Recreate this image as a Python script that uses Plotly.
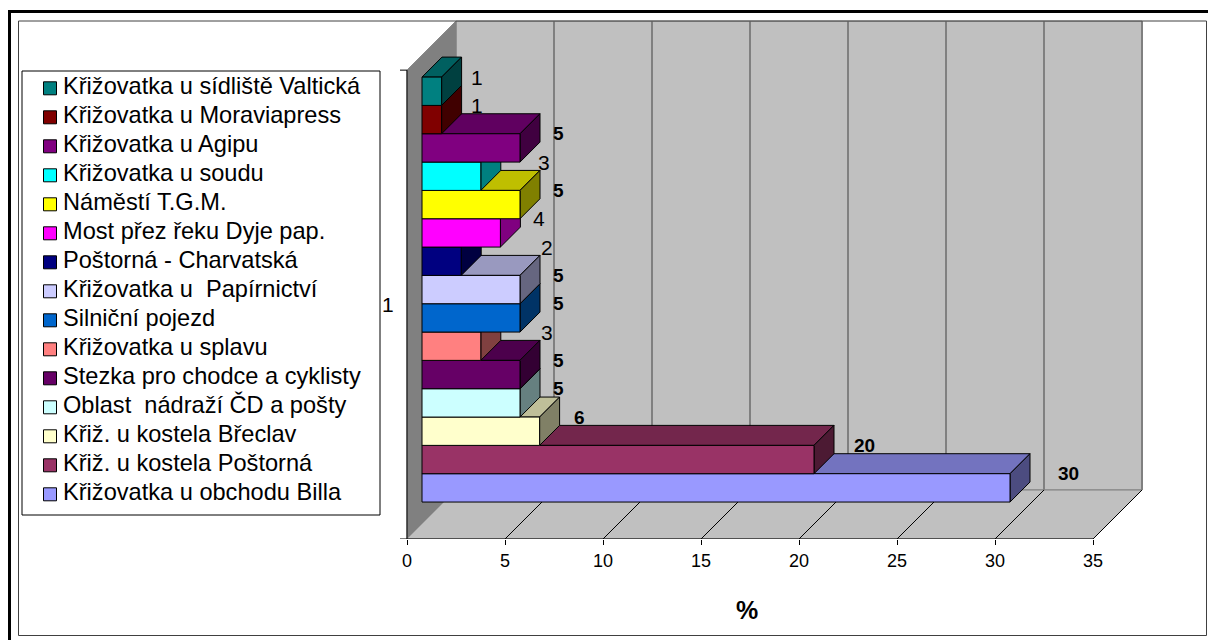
import plotly.graph_objects as go

# ---- data -------------------------------------------------------------
categories = [
    "Křižovatka u sídliště Valtická",
    "Křižovatka u Moraviapress",
    "Křižovatka u Agipu",
    "Křižovatka u soudu",
    "Náměstí T.G.M.",
    "Most přez řeku Dyje pap.",
    "Poštorná - Charvatská",
    "Křižovatka u \u00a0Papírnictví",
    "Silniční pojezd",
    "Křižovatka u splavu",
    "Stezka pro chodce a cyklisty",
    "Oblast \u00a0nádraží ČD a pošty",
    "Křiž. u kostela Břeclav",
    "Křiž. u kostela Poštorná",
    "Křižovatka u obchodu Billa",
]
values = [1, 1, 5, 3, 5, 4, 2, 5, 5, 3, 5, 5, 6, 20, 30]
colors = [
    "#008080", "#800000", "#800080", "#00FFFF", "#FFFF00",
    "#FF00FF", "#000080", "#CCCCFF", "#0066CC", "#FF8080",
    "#660066", "#CCFFFF", "#FFFFCC", "#993366", "#9999FF",
]
x_ticks = [0, 5, 10, 15, 20, 25, 30, 35]
category_label = "1"
value_title = "%"

# ---- 3-D scene geometry (oblique projection) ---------------------------
W, H = 1208, 640
PX_X = 19.6        # pixels per value unit
PX_Y = 28.33       # pixels per bar slot
PLANE_H = 16.55    # height of the category axis, in bar slots
DEPTH = 49         # wall depth in pixels
BAR_FRONT = 15     # depth where the bar front faces sit
BAR_DEPTH = 20     # bar thickness in depth
X_MAX = x_ticks[-1]
n = len(values)
gap = (PLANE_H - n) / 2

# placement of the plot area on the page (pixels)
PL_LEFT, PL_RIGHT, PL_TOP, PL_BOTTOM, X0_PX = 380, 1150, 20, 539, 407

FONT = "Liberation Sans, Arial, sans-serif"
# small sideways shifts for labels that were moved apart
label_nudge = {3: 1.3, 6: 2.5, 9: 1.45}


def proj(v, s, d):
    """Project (value, slot, depth px) onto the 2-D axes."""
    return v + d / PX_X, s + d / PX_Y


def shade(hex_color, f):
    r, g, b = (int(hex_color[i:i + 2], 16) for i in (1, 3, 5))
    return "rgb(%d,%d,%d)" % (round(r * f), round(g * f), round(b * f))


fig = go.Figure()


def poly(pts, fill, line_color="black", line_width=1, xa="x", ya="y"):
    xs = [p[0] for p in pts] + [pts[0][0]]
    ys = [p[1] for p in pts] + [pts[0][1]]
    fig.add_trace(go.Scatter(
        x=xs, y=ys, mode="lines", fill="toself", fillcolor=fill,
        line=dict(color=line_color, width=line_width),
        hoverinfo="skip", showlegend=False, xaxis=xa, yaxis=ya))


def seg(pts, color="black", width=1, dash=None):
    fig.add_trace(go.Scatter(
        x=[p[0] for p in pts], y=[p[1] for p in pts], mode="lines",
        line=dict(color=color, width=width, dash=dash),
        hoverinfo="skip", showlegend=False))


# walls and floor
poly([proj(0, 0, DEPTH), proj(X_MAX, 0, DEPTH), proj(X_MAX, PLANE_H, DEPTH),
      proj(0, PLANE_H, DEPTH)], "#C0C0C0", "#808080", 1)
poly([proj(0, 0, 0), proj(0, PLANE_H, 0), proj(0, PLANE_H, DEPTH),
      proj(0, 0, DEPTH)], "#808080", "#808080", 1)
poly([proj(0, 0, 0), proj(X_MAX, 0, 0), proj(X_MAX, 0, DEPTH),
      proj(0, 0, DEPTH)], "#C0C0C0", "#808080", 1)

# gridlines on back wall and floor
for t in x_ticks[1:]:
    seg([proj(t, 0, DEPTH), proj(t, PLANE_H, DEPTH)], "#808080", 2)
for t in x_ticks[1:]:
    seg([proj(t, 0, 0), proj(t, 0, DEPTH)], "black", 1)
seg([proj(0, 0, 0), proj(0, 0, DEPTH)], "#A0A0A0", 1)

# front axes
seg([(-7 / PX_X, 0), (X_MAX, 0)], "black", 1)
seg([(0, 0), (0, PLANE_H)], "black", 1)
seg([(-7 / PX_X, PLANE_H), (0, PLANE_H)], "black", 1)

# bars, drawn from the bottom one upwards
for k in range(n - 1, -1, -1):
    v = values[k]
    c = colors[k]
    s0 = gap + (n - 1 - k)
    s1 = s0 + 1
    d0, d1 = BAR_FRONT, BAR_FRONT + BAR_DEPTH
    front = [proj(0, s0, d0), proj(v, s0, d0), proj(v, s1, d0), proj(0, s1, d0)]
    top = [proj(0, s1, d0), proj(v, s1, d0), proj(v, s1, d1), proj(0, s1, d1)]
    side = [proj(v, s0, d0), proj(v, s1, d0), proj(v, s1, d1), proj(v, s0, d1)]
    poly(top, shade(c, 0.75))
    poly(side, shade(c, 0.5))
    poly(front, c)

# value labels
annotations = []
for k, v in enumerate(values):
    s1 = gap + (n - k) + BAR_FRONT / PX_Y
    lx = 1.04 * v + 2.55 + label_nudge.get(k, 0)
    bold = v >= 5
    annotations.append(dict(
        x=lx, y=s1, xref="x", yref="y", showarrow=False,
        text=("<b>%d</b>" % v) if bold else "%d" % v,
        font=dict(family=FONT, size=19 if bold else 21, color="black"),
        xanchor="center", yanchor="middle"))

# category axis label and value axis title
annotations.append(dict(
    x=-19 / PX_X, y=PLANE_H / 2, xref="x", yref="y", showarrow=False,
    text=category_label, font=dict(family=FONT, size=21, color="black"),
    xanchor="center", yanchor="middle"))
annotations.append(dict(
    x=17.35, y=(H - 610) / H, xref="x", yref="paper", showarrow=False,
    text="<b>%s</b>" % value_title,
    font=dict(family=FONT, size=25, color="black"),
    xanchor="center", yanchor="middle"))

# legend drawn in its own small subplot
LG_L, LG_R, LG_T, LG_B = 22, 380, 71, 515
LG_FIRST, LG_STEP = 88.3, 29.0
fig.add_trace(go.Scatter(
    x=[28] * n, y=list(range(n)), mode="markers",
    marker=dict(symbol="square", size=13, color=colors,
                line=dict(color="black", width=1)),
    hoverinfo="skip", showlegend=False, xaxis="x2", yaxis="y2"))
fig.add_trace(go.Scatter(
    x=[41] * n, y=list(range(n)), mode="text", text=categories,
    textposition="middle right",
    textfont=dict(family=FONT, size=23.6, color="black"),
    hoverinfo="skip", showlegend=False, xaxis="x2", yaxis="y2",
    cliponaxis=False))


def px_x(p):
    return p / W


def px_y(p):
    return 1 - p / H


shapes = [
    # outer frame
    dict(type="line", xref="paper", yref="paper", x0=px_x(9.5), x1=px_x(9.5),
         y0=0, y1=px_y(10), line=dict(color="black", width=3)),
    dict(type="line", xref="paper", yref="paper", x0=px_x(8), x1=1,
         y0=px_y(11.5), y1=px_y(11.5), line=dict(color="black", width=3)),
    dict(type="rect", xref="paper", yref="paper", x0=px_x(18.5), x1=px_x(1206.5),
         y0=px_y(635.5), y1=px_y(21), line=dict(color="#404040", width=1)),
    # legend box
    dict(type="rect", xref="paper", yref="paper", x0=px_x(LG_L), x1=px_x(LG_R),
         y0=px_y(LG_B), y1=px_y(LG_T), line=dict(color="black", width=1)),
]

fig.update_layout(
    width=W, height=H,
    margin=dict(l=0, r=0, t=0, b=0),
    paper_bgcolor="white", plot_bgcolor="rgba(0,0,0,0)",
    showlegend=False,
    xaxis=dict(
        domain=[px_x(PL_LEFT), px_x(PL_RIGHT)],
        range=[(PL_LEFT - X0_PX) / PX_X, (PL_RIGHT - X0_PX) / PX_X],
        tickvals=x_ticks, ticktext=[str(t) for t in x_ticks],
        ticks="outside", ticklen=5, tickwidth=1, tickcolor="black",
        tickfont=dict(family=FONT, size=18, color="black"),
        showgrid=False, zeroline=False, showline=False, fixedrange=True),
    yaxis=dict(
        domain=[px_y(PL_BOTTOM), px_y(PL_TOP)],
        range=[0, (PL_BOTTOM - PL_TOP) / PX_Y],
        visible=False, fixedrange=True),
    xaxis2=dict(
        domain=[px_x(LG_L), px_x(LG_R)], range=[0, LG_R - LG_L],
        visible=False, fixedrange=True, anchor="y2"),
    yaxis2=dict(
        domain=[px_y(LG_B), px_y(LG_T)],
        range=[(LG_B - LG_FIRST) / LG_STEP, (LG_T - LG_FIRST) / LG_STEP],
        visible=False, fixedrange=True, anchor="x2"),
    annotations=annotations,
    shapes=shapes,
)

fig.write_html("out.html", config={"displayModeBar": False})
